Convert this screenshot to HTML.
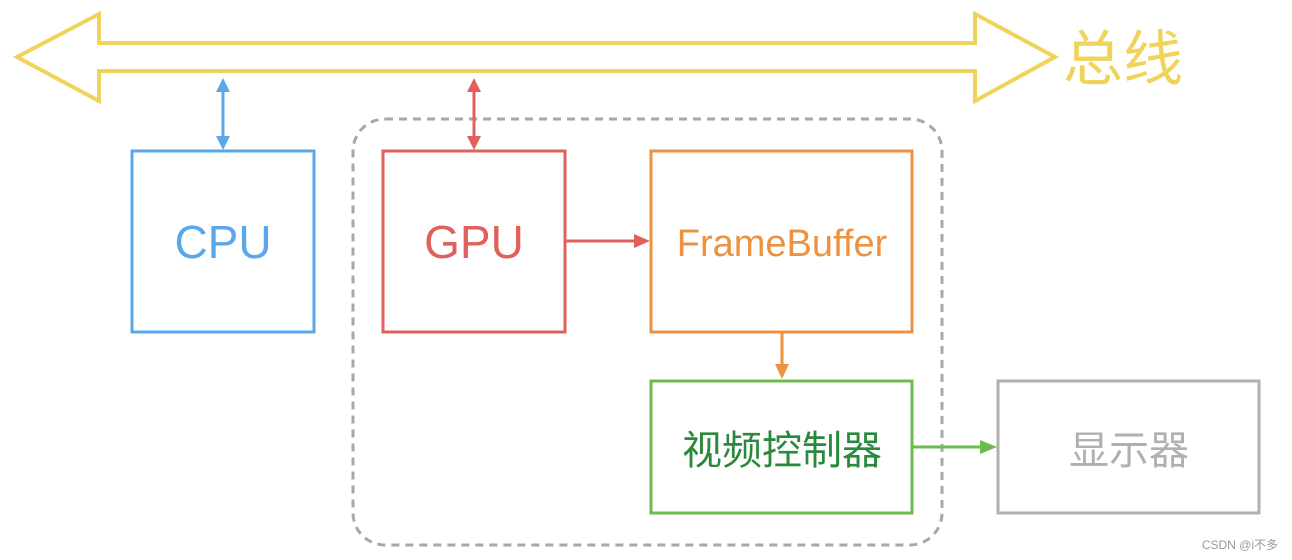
<!DOCTYPE html>
<html><head><meta charset="utf-8"><style>
html,body{margin:0;padding:0;background:#fff;}
svg{display:block;}
text{font-family:"Liberation Sans","Noto Sans CJK SC",sans-serif;}
</style></head><body>
<svg width="1292" height="560" viewBox="0 0 1292 560" xmlns="http://www.w3.org/2000/svg">
<!-- bus -->
<polygon points="17,57 99,14 99,43 975,43 975,14 1055,57 975,101 975,71 99,71 99,101" fill="none" stroke="#f0d35a" stroke-width="4" stroke-linejoin="miter"/>
<text x="1063" y="80" font-size="60" fill="#f0d35a" font-family="Noto Sans CJK SC,sans-serif">总线</text>
<!-- dashed group -->
<rect x="353" y="119" width="589" height="426" rx="32" fill="none" stroke="#a8a8a8" stroke-width="3" stroke-dasharray="8,6"/>
<!-- CPU -->
<rect x="132" y="151" width="182" height="181" fill="#fff" stroke="#5aa8ea" stroke-width="3"/>
<text x="223" y="258" font-size="46" fill="#5aa8ea" text-anchor="middle">CPU</text>
<line x1="223" y1="90" x2="223" y2="138" stroke="#5aa8ea" stroke-width="3"/>
<polygon points="223,78 216,92 230,92" fill="#5aa8ea"/>
<polygon points="223,150 216,136 230,136" fill="#5aa8ea"/>
<!-- GPU -->
<rect x="383" y="151" width="182" height="181" fill="#fff" stroke="#e0605c" stroke-width="3"/>
<text x="474" y="258" font-size="46" fill="#e0605c" text-anchor="middle">GPU</text>
<line x1="474" y1="90" x2="474" y2="138" stroke="#e0605c" stroke-width="3"/>
<polygon points="474,78 467,92 481,92" fill="#e0605c"/>
<polygon points="474,150 467,136 481,136" fill="#e0605c"/>
<line x1="566" y1="241" x2="636" y2="241" stroke="#e0605c" stroke-width="3"/>
<polygon points="650,241 634,234 634,248" fill="#e0605c"/>
<!-- FrameBuffer -->
<rect x="651" y="151" width="261" height="181" fill="#fff" stroke="#ec9240" stroke-width="3"/>
<text x="782" y="256" font-size="38" fill="#ec9240" text-anchor="middle">FrameBuffer</text>
<line x1="782" y1="333" x2="782" y2="366" stroke="#ec9240" stroke-width="3"/>
<polygon points="782,379 775,364 789,364" fill="#ec9240"/>
<!-- video controller -->
<rect x="651" y="381" width="261" height="132" fill="#fff" stroke="#6cbc4c" stroke-width="3"/>
<text x="782" y="464" font-size="40" fill="#2a8a3c" text-anchor="middle" font-family="Noto Sans CJK SC,sans-serif">视频控制器</text>
<line x1="913" y1="447" x2="982" y2="447" stroke="#6cbc4c" stroke-width="3"/>
<polygon points="997,447 980,440 980,454" fill="#6cbc4c"/>
<!-- display -->
<rect x="998" y="381" width="261" height="132" fill="#fff" stroke="#b0b0b0" stroke-width="3"/>
<text x="1129" y="464" font-size="40" fill="#b0b0b0" text-anchor="middle" font-family="Noto Sans CJK SC,sans-serif">显示器</text>
<text x="1278" y="549" font-size="12" fill="#999" text-anchor="end">CSDN @i不多</text>
</svg>
</body></html>
